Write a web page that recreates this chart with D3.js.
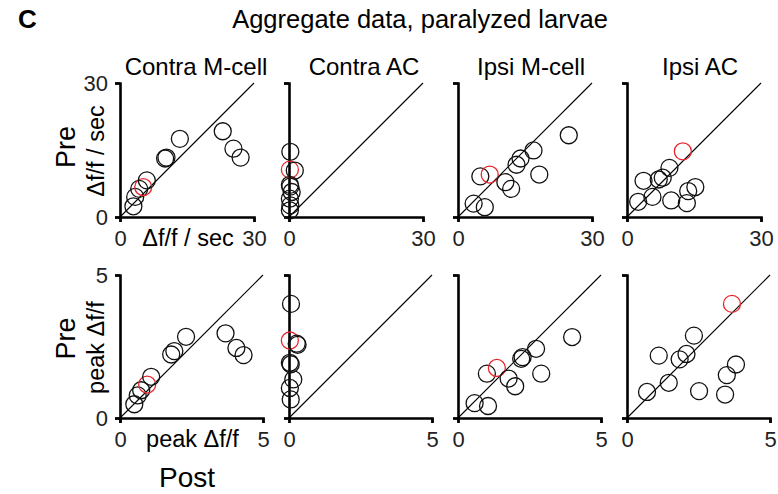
<!DOCTYPE html>
<html>
<head>
<meta charset="utf-8">
<script src="https://cdn.jsdelivr.net/npm/d3@7"></script>
<style>
	body { margin: 0; background: #fff; }
	svg { font-family: "Liberation Sans", Arial, sans-serif; }
</style>
</head>
<body>
<div id="container"></div>
<script>
// panel titles
var panelNames = ["Contra M-cell", "Contra AC", "Ipsi M-cell", "Ipsi AC"];

// top row: delta f/f per sec, [post, pre]
var rateContraM = [[3.0,2.4],[3.4,4.5],[4.3,6.3],[5.2,6.7],[6.0,8.2],[10.1,13.1],[10.4,13.3],[13.4,17.5],[23.0,19.2],[25.4,15.3],[27.0,13.3]];
var rateContraAC = [[0.3,14.6],[0.2,10.6],[1.3,10.4],[0.2,7.2],[0.3,6.8],[0.6,5.6],[0.2,4.1],[0.3,2.6],[0.2,1.5]];
var rateIpsiM = [[3.5,3.0],[6.0,2.2],[5.0,9.1],[7.1,9.5],[10.6,7.8],[11.9,6.3],[13.1,11.7],[14.0,13.1],[16.9,14.9],[18.2,9.5],[24.8,18.3]];
var rateIpsiAC = [[2.5,3.4],[3.7,8.1],[5.7,4.5],[7.1,8.4],[8.0,8.8],[9.5,11.0],[12.5,14.7],[9.9,3.7],[13.4,3.1],[13.7,5.8],[15.3,6.7]];

// bottom row: peak delta f/f, [post, pre]
var peakContraM = [[0.50,0.48],[0.62,0.79],[0.74,0.97],[0.95,1.17],[1.09,1.44],[1.79,2.22],[1.90,2.34],[2.31,2.84],[3.69,2.96],[4.07,2.45],[4.32,2.20]];
var peakContraAC = [[0.07,3.99],[0.03,2.71],[0.30,2.56],[0.27,2.60],[0.03,1.93],[0.06,1.88],[0.15,1.35],[0.03,1.05],[0.06,0.65]];
var peakIpsiM = [[0.58,0.52],[1.05,0.42],[1.01,1.55],[1.36,1.75],[1.77,1.38],[2.00,1.11],[2.21,2.07],[2.26,2.13],[2.73,2.42],[2.91,1.55],[3.99,2.83]];
var peakIpsiAC = [[0.70,0.91],[1.11,2.18],[1.46,1.23],[1.84,2.05],[2.08,2.24],[2.34,2.88],[3.67,3.99],[2.52,0.94],[3.43,0.82],[3.49,1.50],[3.81,1.87]];

// index of the red (highlighted) cell in each panel
var redIndexRate = [3, 1, 3, 6];
var redIndexPeak = [3, 1, 3, 6];

var rateMax = 30, peakMax = 5;
var rateTicks = [0, 30], peakTicks = [0, 5];

var rows = [
	{ data: [rateContraM, rateContraAC, rateIpsiM, rateIpsiAC], red: redIndexRate, max: rateMax, ticks: rateTicks,
	  top: 83, size: 134, label: "\u0394f/f / sec", preShift: -3 },
	{ data: [peakContraM, peakContraAC, peakIpsiM, peakIpsiAC], red: redIndexPeak, max: peakMax, ticks: peakTicks,
	  top: 275, size: 143, label: "peak \u0394f/f", preShift: -8 }
];

var panelLeft = [120, 289, 458, 627];
var titleX = [196, 364, 531, 700];

var svg = d3.select("#container").append("svg")
	.attr("width", 778)
	.attr("height", 494);

svg.append("text")
	.attr("x", 18).attr("y", 28)
	.style("font-size", "26px").style("font-weight", "bold")
	.text("C");

svg.append("text")
	.attr("x", 420).attr("y", 28)
	.attr("text-anchor", "middle")
	.style("font-size", "25.5px")
	.text("Aggregate data, paralyzed larvae");

panelNames.forEach(function(name, i){
	svg.append("text")
		.attr("x", titleX[i]).attr("y", 75)
		.attr("text-anchor", "middle")
		.style("font-size", "24px")
		.text(name);
});

rows.forEach(function(row, r){
	var bottom = row.top + row.size;

	row.data.forEach(function(pts, i){
		var left = panelLeft[i];
		var x = d3.scaleLinear().domain([0, row.max]).range([left, left + row.size]);
		var y = d3.scaleLinear().domain([0, row.max]).range([bottom, row.top]);

		var g = svg.append("g");

		// unity line
		g.append("line")
			.attr("x1", x(0)).attr("y1", y(0))
			.attr("x2", x(row.max)).attr("y2", y(row.max))
			.attr("stroke", "#000").attr("stroke-width", 1.1);

		var xa = g.append("g")
			.attr("transform", "translate(0," + bottom + ")")
			.call(d3.axisBottom(x).tickValues(row.ticks).tickFormat(d3.format("d"))
				.tickSize(5).tickSizeOuter(5).tickPadding(8));
		var ya = g.append("g")
			.attr("transform", "translate(" + left + ",0)")
			.call(d3.axisLeft(y).tickValues(row.ticks).tickFormat(d3.format("d"))
				.tickSize(5).tickSizeOuter(5).tickPadding(7));
		if (i > 0) ya.selectAll(".tick text").remove();

		[xa, ya].forEach(function(a){
			a.select(".domain").attr("stroke-width", 2.6);
			a.selectAll(".tick line").attr("stroke-width", 2.2);
			a.selectAll(".tick text")
				.style("font-family", "'Liberation Sans', Arial, sans-serif")
				.style("font-size", "22px").attr("fill", "#222");
		});

		g.selectAll("circle.pt")
			.data(pts)
			.enter().append("circle")
			.attr("class", "pt")
			.attr("cx", function(d){ return x(d[0]); })
			.attr("cy", function(d){ return y(d[1]); })
			.attr("r", 8.5)
			.attr("fill", "none")
			.attr("stroke", function(d, k){ return k == row.red[i] ? "#e8262a" : "#111"; })
			.attr("stroke-width", 1.3);

		if (i == 0) {
			// axis labels inside the first panel
			svg.append("text")
				.attr("x", left + row.size / 2 + 1).attr("y", bottom + 29)
				.attr("text-anchor", "middle")
				.style("font-size", "23.5px")
				.text(row.label);
			svg.append("text")
				.attr("transform", "translate(" + (left - 16) + "," + (row.top + row.size / 2 + 1) + ") rotate(-90)")
				.attr("text-anchor", "middle")
				.style("font-size", "23.5px")
				.text(row.label);
			svg.append("text")
				.attr("transform", "translate(" + 75 + "," + (row.top + row.size / 2 + row.preShift) + ") rotate(-90)")
				.attr("text-anchor", "middle")
				.style("font-size", "27px")
				.text("Pre");
		}
	});
});

svg.append("text")
	.attr("x", 187).attr("y", 487)
	.attr("text-anchor", "middle")
	.style("font-size", "28px")
	.text("Post");
</script>
</body>
</html>
